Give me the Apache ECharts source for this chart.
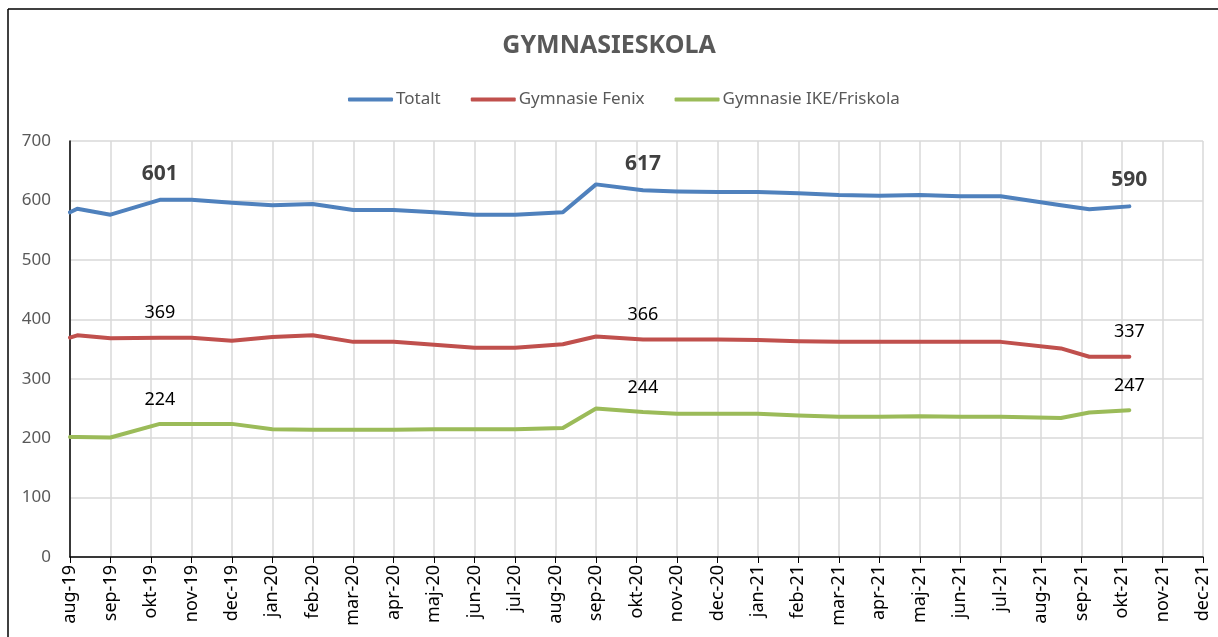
<!DOCTYPE html>
<html>
<head>
<meta charset="utf-8">
<title>Gymnasieskola</title>
<script src="https://cdn.jsdelivr.net/npm/echarts@6/dist/echarts.min.js"></script>
<style>
  html, body { margin: 0; padding: 0; background: #fff; }
  #chart { width: 1218px; height: 637px; }
</style>
</head>
<body>
<div id="chart"></div>
<script>
// månadsetiketter på x-axeln (en per månad, aug-19 .. dec-21)
var monthLabels = ['aug-19','sep-19','okt-19','nov-19','dec-19','jan-20','feb-20','mar-20','apr-20','maj-20','jun-20','jul-20',
  'aug-20','sep-20','okt-20','nov-20','dec-20','jan-21','feb-21','mar-21','apr-21','maj-21','jun-21','jul-21',
  'aug-21','sep-21','okt-21','nov-21','dec-21'];

// mätpunkternas läge i månader räknat från aug-19 (datumaxel)
var pointMonths = [0, 0.18, 1, 2.22, 3, 4, 5, 6, 7, 8, 9, 10, 11, 12.18, 13, 14.16, 15, 16, 17, 18, 19, 20, 21, 22, 23, 24.49, 25.19, 26.18];

var totalt = [580, 586, 576, 601, 601, 596, 592, 594, 584, 584, 580, 576, 576, 580, 627, 617, 615, 614, 614, 612, 609, 608, 609, 607, 607, 592, 585, 590];
var fenix  = [369, 373, 368, 369, 369, 364, 370, 373, 362, 362, 357, 352, 352, 358, 371, 366, 366, 366, 365, 363, 362, 362, 362, 362, 362, 351, 337, 337];
var ike    = [202, 202, 201, 224, 224, 224, 215, 214, 214, 214, 215, 215, 215, 217, 250, 244, 241, 241, 241, 238, 236, 236, 237, 236, 236, 234, 243, 247];

// vilka punkter som har dataetikett (okt-19, okt-20, okt-21)
var labelIdx = [3, 15, 27];

var seriesNames = ['Totalt', 'Gymnasie Fenix', 'Gymnasie IKE/Friskola'];
var seriesColors = ['#4f81bd', '#c0504d', '#9bbb59'];

var FONT = 'Noto Sans';

function buildData(values, labelStyle) {
  return values.map(function (v, i) {
    var item = { value: [pointMonths[i], v] };
    if (labelIdx.indexOf(i) >= 0) {
      item.label = Object.assign({ show: true, position: 'top', distance: 15, fontFamily: FONT }, labelStyle);
    }
    return item;
  });
}

function makeSeries(idx, values, labelStyle) {
  return {
    name: seriesNames[idx],
    type: 'line',
    symbol: 'circle',
    symbolSize: 1,
    showSymbol: true,
    clip: true,
    itemStyle: { color: seriesColors[idx] },
    lineStyle: { color: seriesColors[idx], width: 4, cap: 'round', join: 'round' },
    emphasis: { disabled: true },
    data: buildData(values, labelStyle)
  };
}

var chart = echarts.init(document.getElementById('chart'));
chart.setOption({
  backgroundColor: '#fff',
  animation: false,
  textStyle: { fontFamily: FONT },
  graphic: [
    { type: 'line', shape: { x1: 8, y1: 9, x2: 1218, y2: 9 }, style: { stroke: '#000', lineWidth: 1.5 } },
    { type: 'line', shape: { x1: 8, y1: 9, x2: 8, y2: 637 }, style: { stroke: '#000', lineWidth: 1.5 } }
  ],
  title: {
    text: 'GYMNASIESKOLA',
    left: 'center',
    top: 28,
    textStyle: { fontFamily: FONT, fontSize: 25, fontWeight: 'bold', color: '#595959' }
  },
  legend: {
    data: seriesNames,
    top: 86,
    left: 343,
    icon: 'roundRect',
    itemWidth: 45,
    itemHeight: 4,
    itemGap: 30,
    textStyle: { fontFamily: FONT, fontSize: 17, color: '#595959', padding: [0, 0, 0, -2] }
  },
  grid: { left: 70, right: 15, top: 141, bottom: 80, containLabel: false },
  xAxis: {
    type: 'value',
    min: 0,
    max: monthLabels.length - 1,
    interval: 1,
    axisLine: { show: true, lineStyle: { color: '#000', width: 1.5 } },
    axisTick: { show: true, inside: false, length: 6, lineStyle: { color: '#000' } },
    axisLabel: {
      rotate: 90,
      fontFamily: FONT,
      fontSize: 18,
      color: '#000',
      margin: 8,
      formatter: function (v) { return monthLabels[Math.round(v)] || ''; }
    },
    splitLine: { show: true, lineStyle: { color: '#d9d9d9', width: 1.5 } }
  },
  yAxis: {
    type: 'value',
    min: 0,
    max: 700,
    interval: 100,
    axisLine: { show: true, lineStyle: { color: '#000', width: 1.5 } },
    axisTick: { show: false },
    axisLabel: { fontFamily: FONT, fontSize: 17, color: '#595959', margin: 19 },
    splitLine: { show: true, lineStyle: { color: '#d9d9d9', width: 1.5 } }
  },
  series: [
    makeSeries(0, totalt, { fontSize: 21, fontWeight: 'bold', color: '#404040' }),
    makeSeries(1, fenix, { fontSize: 18, color: '#000' }),
    makeSeries(2, ike, { fontSize: 18, color: '#000' })
  ]
});
</script>
</body>
</html>
